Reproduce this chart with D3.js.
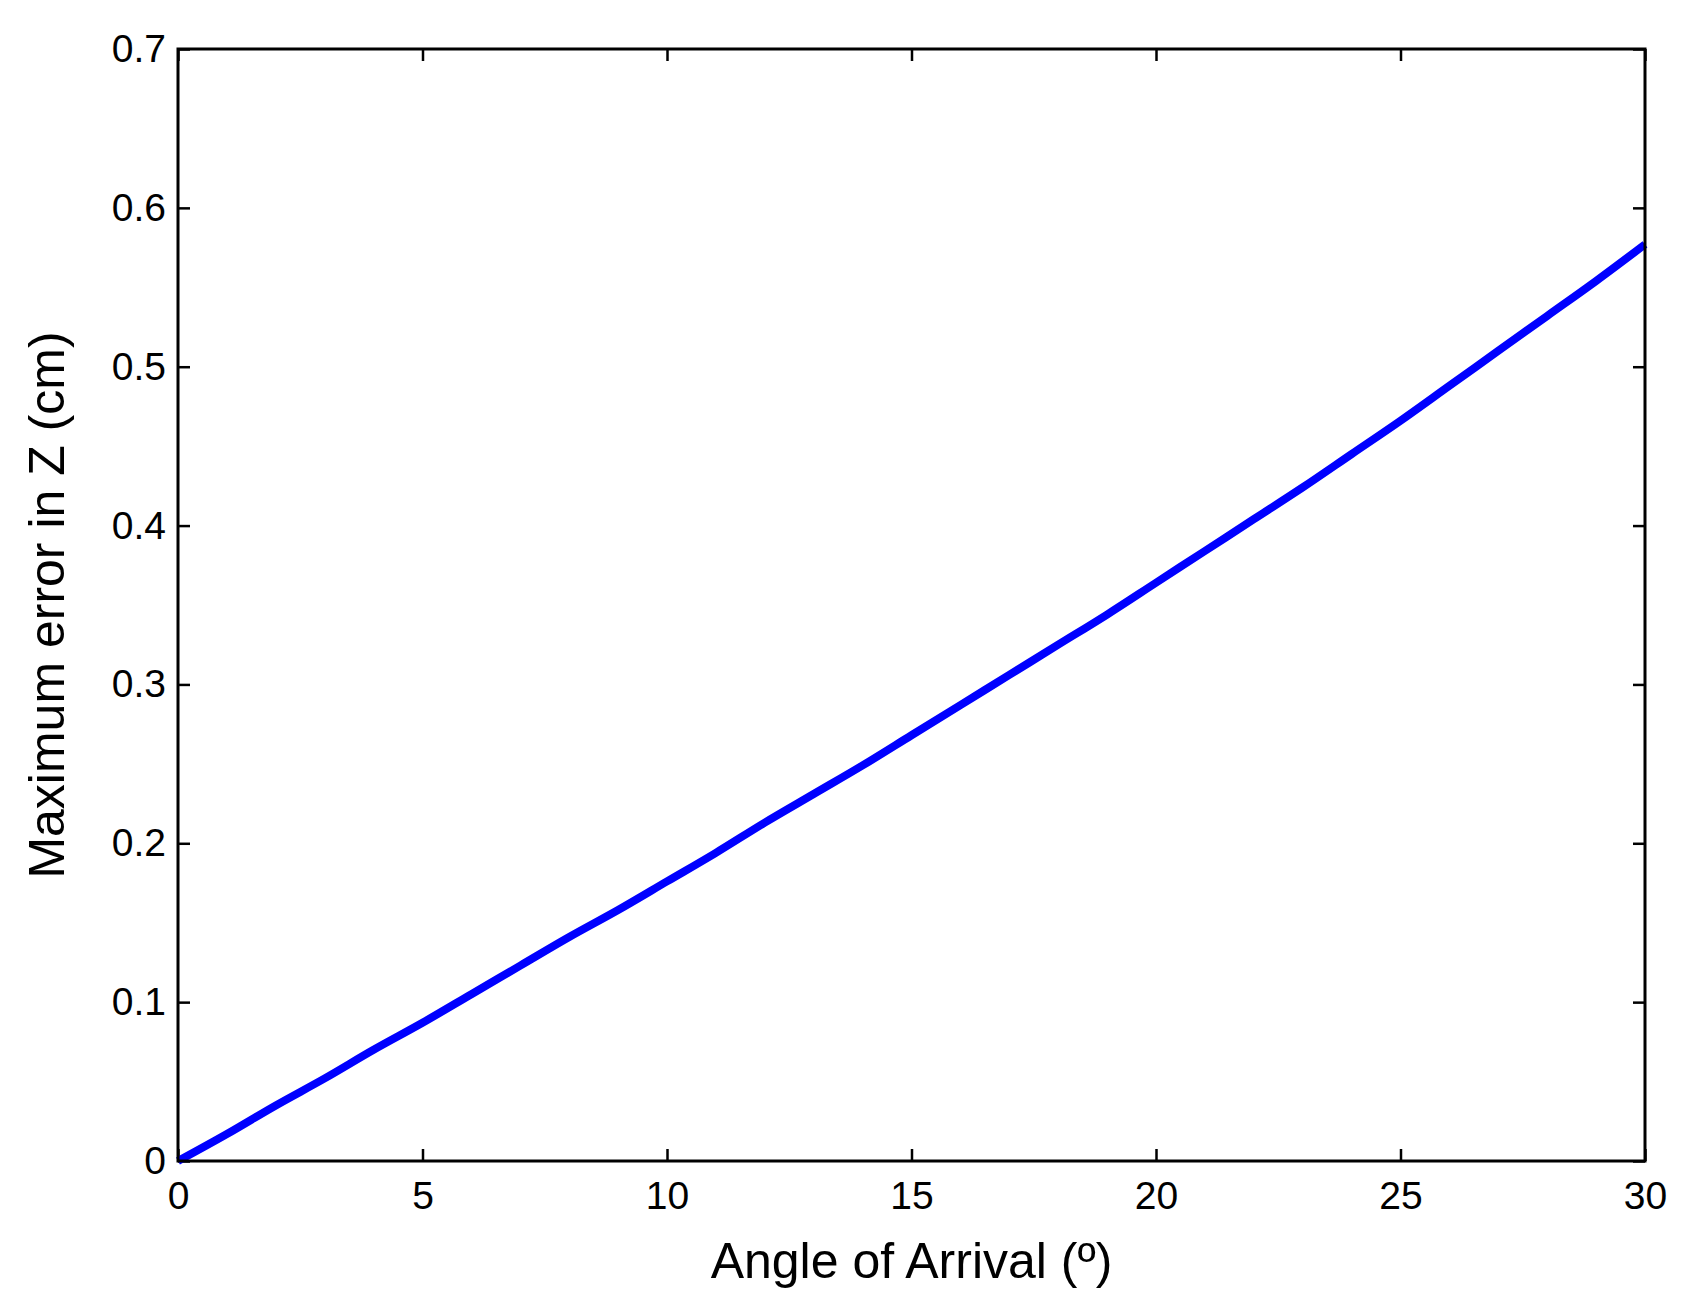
<!DOCTYPE html><html><head><script src="https://cdn.jsdelivr.net/npm/d3@7"></script>
<style>body{margin:0;background:#fff}text{font-family:"Liberation Sans",Arial,sans-serif}</style></head><body>
<svg id="c" width="1691" height="1299"></svg>
<script>
const angles=[0,1,2,3,4,5,6,7,8,9,10,11,12,13,14,15,16,17,18,19,20,21,22,23,24,25,26,27,28,29,30];
const errors=[0,0.017,0.035,0.052,0.070,0.087,0.105,0.123,0.141,0.158,0.176,0.194,0.213,0.231,0.249,0.268,0.287,0.306,0.325,0.344,0.364,0.384,0.404,0.424,0.445,0.466,0.488,0.510,0.532,0.554,0.577];
const xTicks=[0,5,10,15,20,25,30];
const yTicks=[0,0.1,0.2,0.3,0.4,0.5,0.6,0.7];
const L=178,R=1645,T=49,B=1161;
const svg=d3.select("#c");
const x=d3.scaleLinear().domain([0,30]).range([L,R]);
const y=d3.scaleLinear().domain([0,0.7]).range([B,T]);
const fs=39;
function style(a){a.selectAll("path").remove();a.selectAll("line").attr("stroke","#000").attr("stroke-width",2.5);a.selectAll("text").attr("font-size",fs).attr("fill","#000");}
svg.append("g").attr("transform",`translate(0,${B})`).call(d3.axisBottom(x).tickValues(xTicks).tickSize(-12).tickPadding(20).tickFormat(d3.format("d"))).call(style);
svg.append("g").attr("transform",`translate(0,${T})`).call(d3.axisTop(x).tickValues(xTicks).tickSize(-12).tickFormat("")).call(style);
svg.append("g").attr("transform",`translate(${L},0)`).call(d3.axisLeft(y).tickValues(yTicks).tickSize(-12).tickPadding(12).tickFormat(d=>d===0?"0":d3.format(".1f")(d))).call(style);
svg.append("g").attr("transform",`translate(${R},0)`).call(d3.axisRight(y).tickValues(yTicks).tickSize(-12).tickFormat("")).call(style);
svg.append("path").datum(angles.map((a,i)=>[a,errors[i]])).attr("fill","none").attr("stroke","#0000ff").attr("stroke-width",8)
 .attr("d",d3.line().x(d=>x(d[0])).y(d=>y(d[1])).curve(d3.curveCatmullRom));
svg.append("rect").attr("x",L).attr("y",T).attr("width",R-L).attr("height",B-T).attr("fill","none").attr("stroke","#000").attr("stroke-width",3);
svg.append("text").attr("x",(L+R)/2).attr("y",1278).attr("text-anchor","middle").attr("font-size",50).text("Angle of Arrival (º)");
svg.append("text").attr("transform",`translate(64,${(T+B)/2}) rotate(-90)`).attr("text-anchor","middle").attr("font-size",50).text("Maximum error in Z (cm)");
</script></body></html>
